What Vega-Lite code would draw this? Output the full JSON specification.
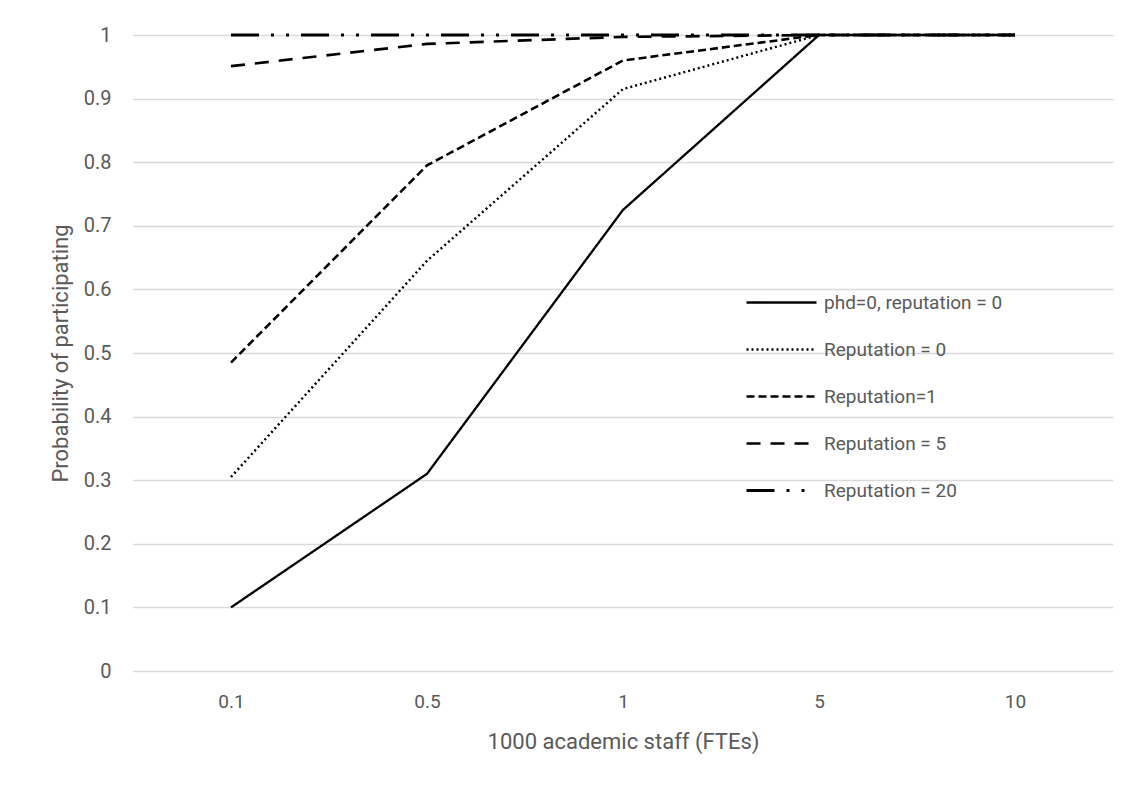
{
  "$schema": "https://vega.github.io/schema/vega-lite/v6.json",
  "autosize": {"type": "none"},
  "padding": {"left": 133, "top": 35, "right": 21, "bottom": 116},
  "width": 980,
  "height": 636,
  "background": "white",
  "data": {"values": [
    {"staff": "0.1", "series": "phd=0, reputation = 0", "p": 0.1},
    {"staff": "0.5", "series": "phd=0, reputation = 0", "p": 0.31},
    {"staff": "1", "series": "phd=0, reputation = 0", "p": 0.725},
    {"staff": "5", "series": "phd=0, reputation = 0", "p": 1},
    {"staff": "10", "series": "phd=0, reputation = 0", "p": 1},
    {"staff": "0.1", "series": "Reputation = 0", "p": 0.305},
    {"staff": "0.5", "series": "Reputation = 0", "p": 0.645},
    {"staff": "1", "series": "Reputation = 0", "p": 0.915},
    {"staff": "5", "series": "Reputation = 0", "p": 1},
    {"staff": "10", "series": "Reputation = 0", "p": 1},
    {"staff": "0.1", "series": "Reputation=1", "p": 0.485},
    {"staff": "0.5", "series": "Reputation=1", "p": 0.795},
    {"staff": "1", "series": "Reputation=1", "p": 0.96},
    {"staff": "5", "series": "Reputation=1", "p": 1},
    {"staff": "10", "series": "Reputation=1", "p": 1},
    {"staff": "0.1", "series": "Reputation = 5", "p": 0.951},
    {"staff": "0.5", "series": "Reputation = 5", "p": 0.986},
    {"staff": "1", "series": "Reputation = 5", "p": 0.997},
    {"staff": "5", "series": "Reputation = 5", "p": 1},
    {"staff": "10", "series": "Reputation = 5", "p": 1},
    {"staff": "0.1", "series": "Reputation = 20", "p": 1},
    {"staff": "0.5", "series": "Reputation = 20", "p": 1},
    {"staff": "1", "series": "Reputation = 20", "p": 1},
    {"staff": "5", "series": "Reputation = 20", "p": 1},
    {"staff": "10", "series": "Reputation = 20", "p": 1}
  ]},
  "mark": {"type": "line", "color": "black", "strokeCap": "butt"},
  "encoding": {
    "x": {
      "field": "staff", "type": "nominal", "sort": ["0.1", "0.5", "1", "5", "10"],
      "scale": {"type": "point", "padding": 0.5},
      "axis": {
        "title": "1000 academic staff (FTEs)", "labelAngle": 0, "domain": false, "ticks": false, "grid": false,
        "labelFont": "Roboto", "labelFontSize": 19, "labelColor": "#595959", "labelPadding": 21,
        "titleFont": "Roboto", "titleFontSize": 22, "titleFontWeight": "normal", "titleColor": "#595959", "titlePadding": 20
      }
    },
    "y": {
      "field": "p", "type": "quantitative",
      "scale": {"domain": [0, 1], "nice": false},
      "axis": {
        "title": "Probability of participating", "values": [0, 0.1, 0.2, 0.3, 0.4, 0.5, 0.6, 0.7, 0.8, 0.9, 1], "format": "~g",
        "domain": false, "ticks": false, "gridColor": "#d9d9d9", "gridWidth": 1.3,
        "labelFont": "Roboto", "labelFontSize": 20, "labelColor": "#595959", "labelPadding": 22,
        "titleFont": "Roboto", "titleFontSize": 22, "titleFontWeight": "normal", "titleColor": "#595959", "titlePadding": 11
      }
    },
    "strokeDash": {
      "field": "series", "type": "nominal",
      "scale": {
        "domain": ["phd=0, reputation = 0", "Reputation = 0", "Reputation=1", "Reputation = 5", "Reputation = 20"],
        "range": [[1, 0], [2, 3], [8, 4], [14, 10], [28, 12, 3, 12, 3, 12]]
      },
      "legend": {
        "title": null, "orient": "none", "legendX": 612, "legendY": 231,
        "symbolType": "stroke", "symbolSize": 4900, "symbolStrokeColor": "black",
        "labelFont": "Roboto", "labelFontSize": 19, "labelColor": "#595959", "labelLimit": 0,
        "labelOffset": 6, "rowPadding": -1.3
      }
    },
    "strokeWidth": {
      "field": "series", "type": "nominal",
      "scale": {
        "domain": ["phd=0, reputation = 0", "Reputation = 0", "Reputation=1", "Reputation = 5", "Reputation = 20"],
        "range": [2.3, 2.8, 3.6, 3.8, 3.3]
      },
      "legend": null
    }
  },
  "config": {"view": {"stroke": null}}
}
